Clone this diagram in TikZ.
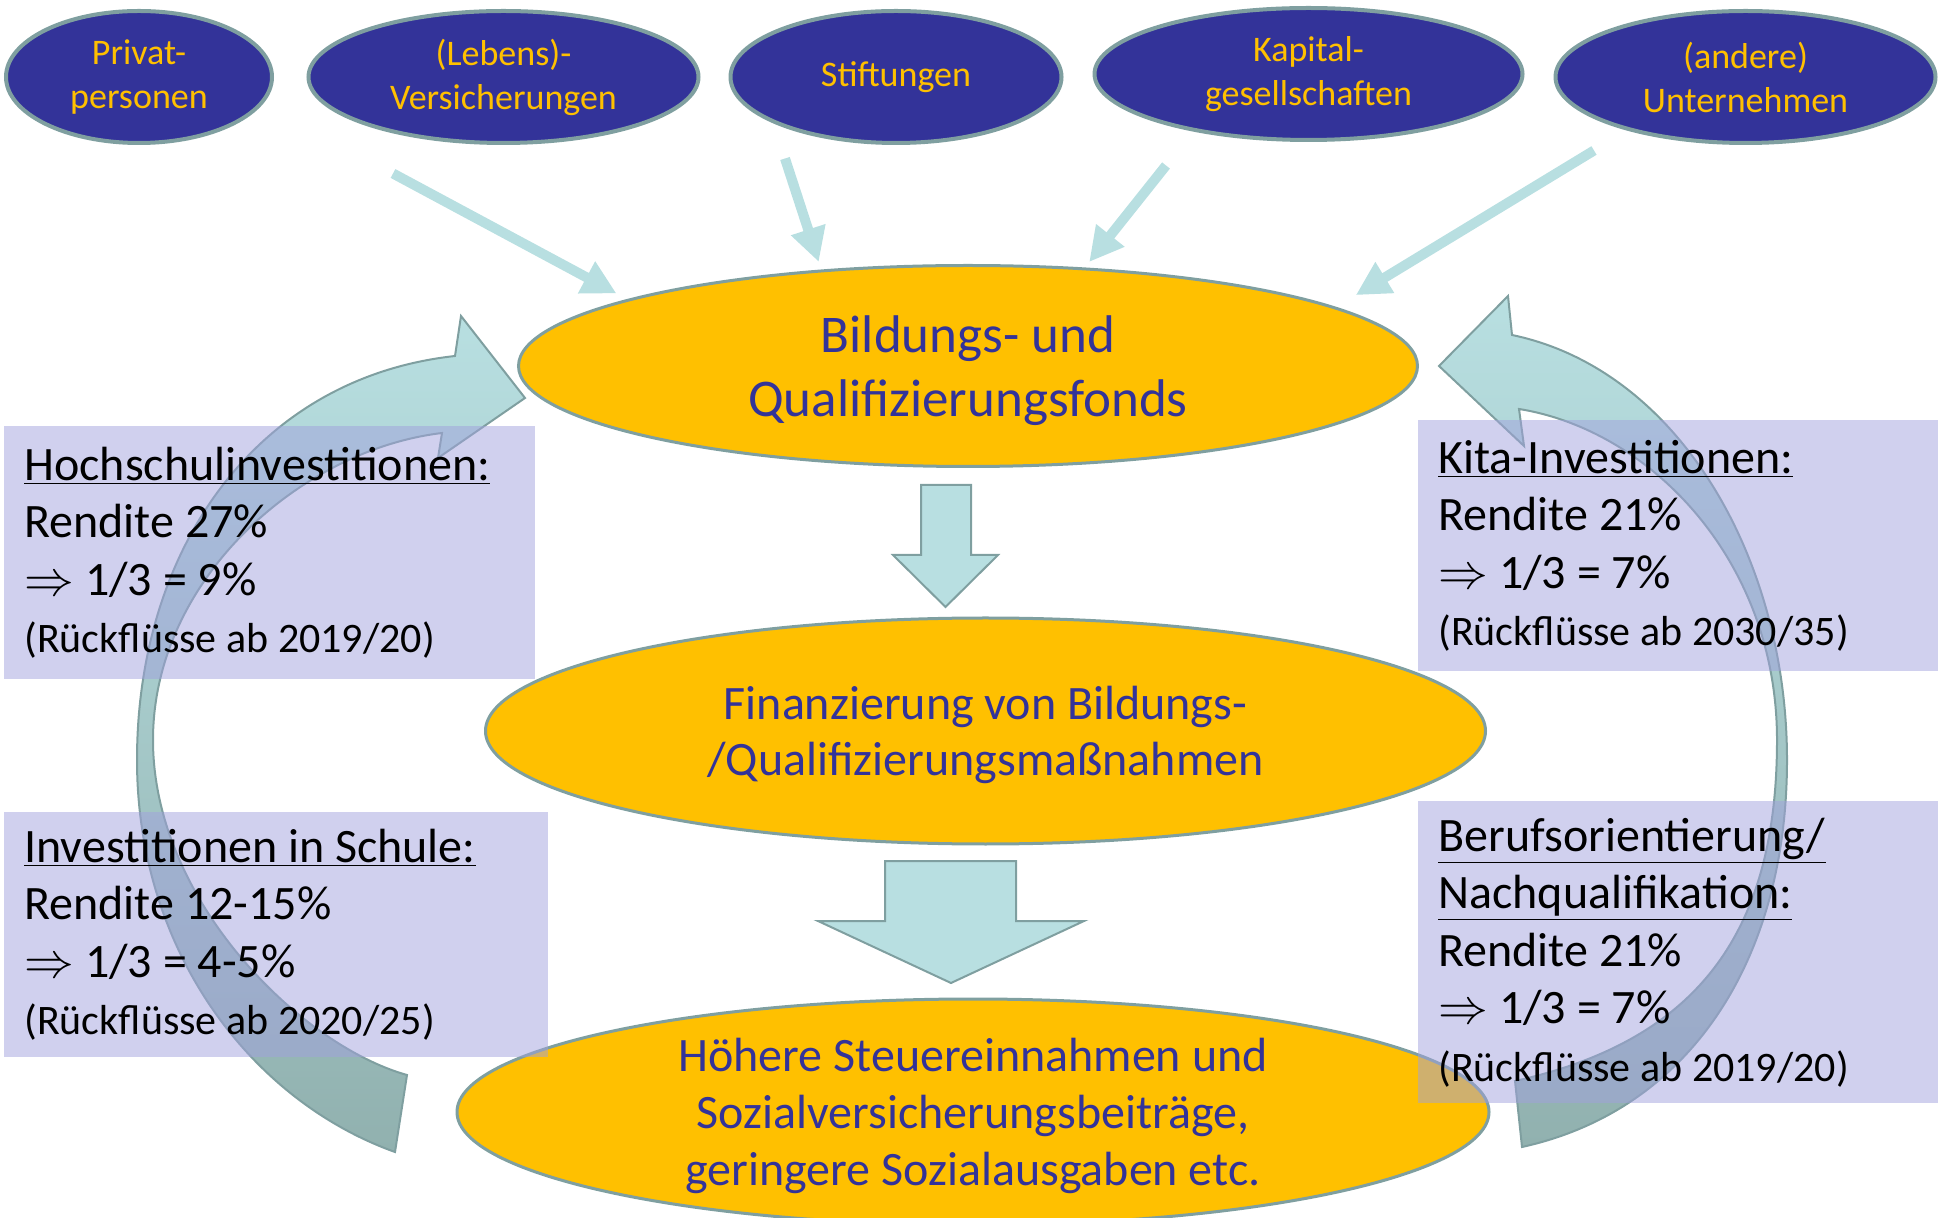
\documentclass[tikz,border=0pt]{standalone}
\usepackage{fontspec}
\setmainfont{Carlito}
\usetikzlibrary{shapes.geometric, arrows.meta}

\definecolor{geberblau}{HTML}{333399}
\definecolor{fondsgelb}{HTML}{FFC000}
\definecolor{randgrau}{HTML}{7F9FA0}
\definecolor{pfeilhell}{HTML}{B8DFE1}
\definecolor{pfeildunkel}{HTML}{91B1AF}
\definecolor{kastenlila}{HTML}{A1A1DD}

\begin{document}
\begin{tikzpicture}[
    x=0.5pt, y=-0.5pt,
    geber/.style={ellipse, fill=geberblau, draw=randgrau, line width=2pt, text=fondsgelb, inner sep=0pt, outer sep=0pt, minimum height=66pt, align=center, font=\fontsize{18}{22}\selectfont},
    fonds/.style={ellipse, fill=fondsgelb, draw=randgrau, line width=1.5pt, text=geberblau, inner sep=0pt, outer sep=0pt, text depth=0pt, align=center},
    zufluss/.style={draw=pfeilhell, line width=5pt, -{Triangle[length=17pt, width=17pt]}},
    block/.style={fill=pfeilhell, draw=randgrau, line width=1pt},
    rueck/.style={draw=randgrau, line width=1pt, top color=pfeilhell, bottom color=pfeildunkel},
    rendite/.style={rectangle, anchor=north west, fill=kastenlila, fill opacity=0.5, text opacity=1, inner xsep=10pt, inner ysep=0pt, align=flush left, font=\fontsize{24}{28.75}\selectfont}
]
\useasboundingbox (0,0) rectangle (1938,1218);

% Geldgeber
\node (privat) [geber, minimum width=133pt] at (139,77) {Privat-\\personen};
\node (vers) [geber, minimum width=195pt] at (503.5,77) {(Lebens)-\\Versicherungen};
\node (stift) [geber, minimum width=165.5pt] at (896,77) {Stiftungen};
\node (kapital) [geber, minimum width=214pt] at (1308.5,74) {Kapital-\\gesellschaften};
\node (andere) [geber, minimum width=190pt] at (1745.5,77) {(andere)\\Unternehmen};

% Fonds und Wirkungskette
\node (bildung) [fonds, minimum width=449.5pt, minimum height=100.5pt, font=\fontsize{26.5}{32}\selectfont] at (968,366) {Bildungs- und\\Qualifizierungsfonds};
\node (massnahmen) [fonds, minimum width=500pt, minimum height=113pt, font=\fontsize{24}{28}\selectfont] at (985.5,731) {Finanzierung von Bildungs-\\/Qualifizierungsmaßnahmen};
\node (steuern) [fonds, minimum width=516pt, minimum height=113pt, font=\fontsize{24}{28.5}\selectfont] at (973,1112) {Höhere Steuereinnahmen und\\Sozialversicherungsbeiträge,\\geringere Sozialausgaben etc.};

% Zufluesse in den Fonds
\draw [zufluss, shorten >=7pt] ([shift={(-110.5,30.5)}]vers.south) -- (bildung.169);
\draw [zufluss, shorten >=4.75pt] ([shift={(-111,15.5)}]stift.south) -- (bildung.147);
\draw [zufluss, shorten >=4.4pt] ([shift={(-142.5,25.5)}]kapital.south) -- (bildung.40);
\draw [zufluss, shorten >=12.3pt] ([shift={(-151.5,7.5)}]andere.south) -- (bildung.9);

% Blockpfeile
\draw [block] (921,485) -- (971,485) -- (971,555) -- (998,555) -- (945.5,607) -- (893,555) -- (921,555) -- cycle;
\draw [block] (885,861) -- (1016,861) -- (1016,921) -- (1084,921) -- (951,983) -- (818,921) -- (885,921) -- cycle;

% Rueckfluesse
\draw [rueck] (455,356) .. controls (255,378) and (137,550) .. (137,760)
    .. controls (137,950) and (250,1100) .. (395,1152) -- (407,1075)
    .. controls (300,1045) and (153,900) .. (153,740)
    .. controls (153,580) and (300,450) .. (442,433)
    -- (438,458) -- (525,398) -- (461,316) -- cycle;
\draw [rueck] (1512,335) .. controls (1680,370) and (1787,560) .. (1787,760)
    .. controls (1787,960) and (1690,1110) .. (1522,1147) -- (1515,1081)
    .. controls (1700,1040) and (1777,930) .. (1777,740)
    .. controls (1777,560) and (1650,430) .. (1519,409)
    -- (1524,446) -- (1439,366) -- (1508,296) -- cycle;

% Renditen
\node (hochschule) [rendite, text width=245.5pt, minimum height=126.5pt] at (4,426) {\underline{Hochschulinvestitionen:}\\Rendite 27\%\\$\Rightarrow$ 1/3 = 9\%\\{\fontsize{21}{27}\selectfont (Rückflüsse ab 2019/20)}};
\node (schule) [rendite, text width=252pt, minimum height=122.5pt] at (4,812) {\underline{Investitionen in Schule:}\\Rendite 12-15\%\\$\Rightarrow$ 1/3 = 4-5\%\\{\fontsize{21}{27}\selectfont (Rückflüsse ab 2020/25)}};
\node (kita) [rendite, text width=240pt, minimum height=125.5pt] at (1418,420) {\underline{Kita-Investitionen:}\\Rendite 21\%\\$\Rightarrow$ 1/3 = 7\%\\{\fontsize{21}{27}\selectfont (Rückflüsse ab 2030/35)}};
\node (beruf) [rendite, text width=240pt, minimum height=151pt] at (1418,801) {\underline{Berufsorientierung/}\\\underline{Nachqualifikation:}\\Rendite 21\%\\$\Rightarrow$ 1/3 = 7\%\\{\fontsize{21}{27}\selectfont (Rückflüsse ab 2019/20)}};

\end{tikzpicture}
\end{document}
